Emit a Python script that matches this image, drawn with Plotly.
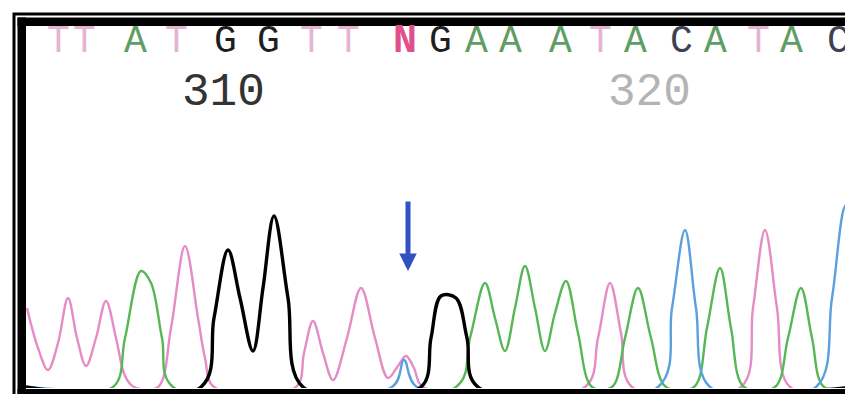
import plotly.graph_objects as go

# ---------------- data (scan position, pixel-row readings from the reference) ----------------
BASE = 379  # pixel row of the trace baseline in the reference (used to convert readings)

# T channel (pink)
t_scan = [19, 30, 40, 50, 60, 69, 78, 88, 98, 108, 117, 126, 150, 163, 177, 190, 197, 206,
          288, 296, 305, 315, 325, 339, 353, 367, 380, 390, 398, 406, 415,
          577, 590, 602, 613, 624, 733, 745, 757, 769, 782, 846]
t_row = [300, 340, 362, 335, 290, 330, 358, 330, 293, 330, 368, 379, 379, 320, 238, 310, 350, 379,
         379, 345, 313, 345, 372, 330, 280, 330, 370, 358, 348, 360, 379,
         379, 330, 275, 325, 379, 379, 300, 222, 300, 379, 379]

# A channel (green)
a_scan = [18, 105, 117, 133, 143, 154, 165, 448, 462, 477, 487, 497, 507, 517, 527, 537, 547,
          558, 570, 584, 604, 617, 630, 643, 658, 686, 699, 712, 723, 736, 767, 780, 793, 804,
          816, 846]
a_row = [379, 379, 330, 263, 275, 330, 379, 379, 330, 275, 310, 343, 300, 258, 300, 343, 305,
         273, 325, 379, 379, 330, 280, 330, 379, 379, 320, 260, 320, 379, 379, 330, 280, 330,
         379, 379]

# G channel (black)
g_scan = [18, 193, 206, 220, 232, 245, 255, 266, 280, 295, 413, 423, 433, 448, 459, 470, 846]
g_row = [379, 379, 310, 242, 290, 343, 280, 208, 290, 379, 379, 330, 288, 290, 330, 379, 379]

# C channel (blue)
c_scan = [18, 384, 396, 409, 650, 664, 677, 688, 702, 808, 824, 838, 846]
c_row = [379, 379, 352, 379, 379, 300, 222, 300, 379, 379, 290, 197, 212]

# base calls
letters = ["T", "T", "A", "T", "G", "G", "T", "T", "N", "G",
           "A", "A", "A", "T", "A", "C", "A", "T", "A", "C"]
letter_scan = [50, 76, 127, 168, 217, 260, 303, 340, 397, 432,
               468, 502, 552, 592, 627, 673, 707, 750, 783, 830]

# position ruler labels
ruler_labels = ["310", "320"]
ruler_scan = [215, 641]

mutation_scan = 400  # position of the N call (arrow)

# ---------------- styling ----------------
W, H = 853, 394
chan_color = {"T": "#e58cc6", "A": "#55b855", "G": "#000000", "C": "#5b9fe0"}
letter_color = {"T": "#e4b4d2", "A": "#5f9d66", "G": "#1e1e1e", "C": "#3c4252", "N": "#e0508c"}


def h(rows):
    return [BASE - r for r in rows]


fig = go.Figure()
for name, xs, rows, width in [("T", t_scan, t_row, 2.4), ("A", a_scan, a_row, 2.4),
                              ("C", c_scan, c_row, 2.4), ("G", g_scan, g_row, 3.4)]:
    fig.add_trace(go.Scatter(x=xs, y=h(rows), mode="lines",
                             line=dict(color=chan_color[name], width=width,
                                       shape="spline", smoothing=1.0),
                             hoverinfo="skip", showlegend=False))

# plot area in pixels
x0p, x1p, y0p, y1p = 18, 846, 18, 380
fig.update_layout(
    width=W, height=H,
    margin=dict(l=0, r=0, t=0, b=0),
    paper_bgcolor="white", plot_bgcolor="white",
    xaxis=dict(domain=[x0p / W, x1p / W], range=[x0p, x1p], visible=False, fixedrange=True),
    yaxis=dict(domain=[(H - y1p) / H, (H - y0p) / H], range=[BASE - y1p, BASE - y0p],
               visible=False, fixedrange=True),
)

MONO = "Liberation Mono, Courier New, monospace"

# base-call letters
for L, xs in zip(letters, letter_scan):
    bold = L == "N"
    fig.add_annotation(x=xs, y=BASE - 33, xref="x", yref="y",
                       text=("<b>%s</b>" % L) if bold else L, showarrow=False,
                       font=dict(family=MONO, size=38 if not bold else 40, color=letter_color[L]))

# ruler labels
for lab, xs, col in zip(ruler_labels, ruler_scan, ["#333333", "#b4b4b4"]):
    fig.add_annotation(x=xs, y=BASE - 85, xref="x", yref="y", text=lab, showarrow=False,
                       font=dict(family=MONO, size=46, color=col))

# arrow marking the mutation
fig.add_annotation(x=mutation_scan, y=BASE - 263, xref="x", yref="y",
                   ax=mutation_scan, ay=BASE - 192, axref="x", ayref="y",
                   text="", showarrow=True, arrowhead=2, arrowsize=0.7, arrowwidth=5,
                   arrowcolor="#3050c4")


# frame
def px(x):
    return x / W


def py(y):
    return 1 - y / H


shapes = [
    dict(type="rect", xref="paper", yref="paper", x0=px(6), x1=px(851), y0=py(6), y1=py(391),
         line=dict(color="black", width=3), fillcolor="rgba(0,0,0,0)"),
    dict(type="rect", xref="paper", yref="paper", x0=px(9.5), x1=px(849), y0=py(9.5), y1=py(18),
         line=dict(width=0), fillcolor="black"),
    dict(type="rect", xref="paper", yref="paper", x0=px(9.5), x1=px(18), y0=py(9.5), y1=py(389),
         line=dict(width=0), fillcolor="black"),
    dict(type="rect", xref="paper", yref="paper", x0=px(9.5), x1=px(849), y0=py(381), y1=py(389),
         line=dict(width=0), fillcolor="black"),
    dict(type="rect", xref="paper", yref="paper", x0=px(846), x1=px(849), y0=py(9.5), y1=py(389),
         line=dict(width=0), fillcolor="black"),
]
fig.update_layout(shapes=shapes)

fig.write_html("out.html")
